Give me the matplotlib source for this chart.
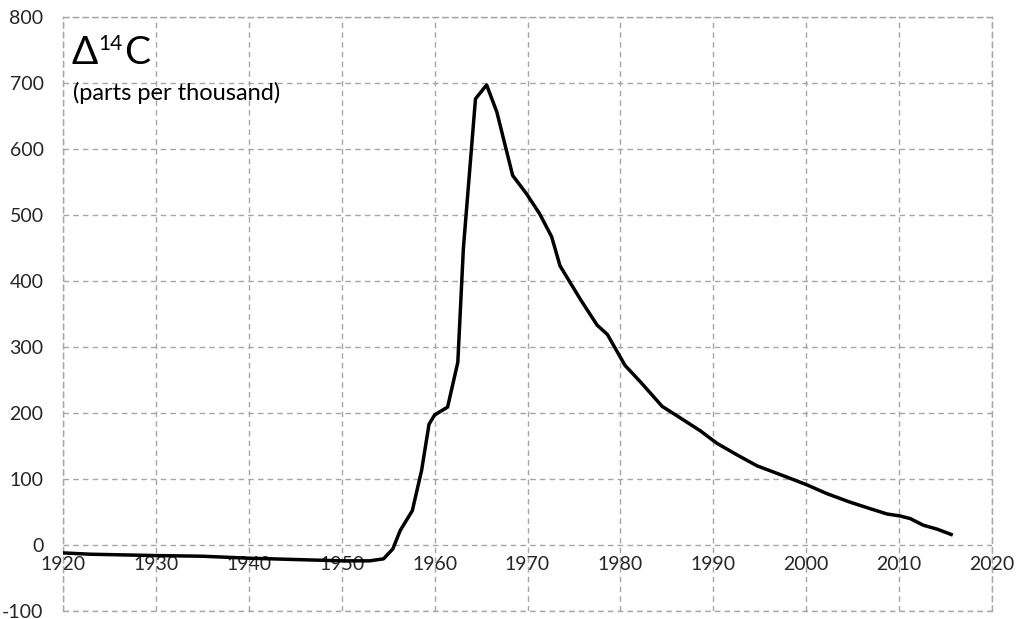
import matplotlib
matplotlib.use("Agg")
import matplotlib.pyplot as plt

years = [1920, 1923, 1930, 1935, 1940, 1945, 1950, 1953, 1954.5, 1955.5,
         1956.3, 1957.6, 1958.6, 1959.4, 1960.0, 1961.4, 1962.5, 1963.1,
         1964.4, 1965.6, 1966.7, 1968.4, 1969.9, 1971.3, 1972.6, 1973.5,
         1975.7, 1977.5, 1978.6, 1980.5, 1982.1, 1984.5, 1986.4, 1988.6,
         1990.4, 1992.5, 1994.7, 1997.9, 2000.1, 2002.2, 2004.7, 2006.9,
         2008.7, 2010.1, 2011.2, 2012.6, 2014.1, 2015.6]
delta14c = [-12, -14, -16, -17, -20, -22, -24, -24, -21, -6,
            22, 52, 113, 183, 197, 209, 277, 450,
            676, 697, 656, 560, 532, 502, 467, 423,
            372, 333, 319, 272, 248, 210, 193, 173,
            154, 137, 120, 103, 91, 78, 65, 55,
            47, 44, 40, 30, 24, 16]
x_ticks = list(range(1920, 2021, 10))
y_ticks = list(range(-100, 801, 100))

plt.rcParams['font.family'] = ['Lato', 'DejaVu Sans']
plt.rcParams['axes.unicode_minus'] = False

W, H = 1017, 619
fig = plt.figure(figsize=(W/100, H/100), dpi=100)
ax = fig.add_axes([63/W, 1 - 611/H, (992-63)/W, (611-17)/H])

ax.plot(years, delta14c, color='black', lw=2.5, solid_joinstyle='round', zorder=3)

ax.set_xlim(1920, 2020)
ax.set_ylim(-100, 800)
ax.set_xticks(x_ticks)
ax.set_yticks(y_ticks)

gcol = '#a6a6a6'
dash = (0, (4, 3))
ax.grid(True, color=gcol, linestyle=dash, lw=1.0)
for s in ax.spines.values():
    s.set_color(gcol)
    s.set_linestyle(dash)
    s.set_linewidth(1.0)

ax.spines['bottom'].set_position(('data', 0))
ax.spines['bottom'].set_visible(False)
ax.axhline(-100, color=gcol, linestyle=dash, lw=1.0, clip_on=False)

ax.tick_params(axis='both', length=0, labelsize=14, colors='#262626')
ax.tick_params(axis='y', pad=14)
ax.tick_params(axis='x', pad=8)

def px(x, y):
    return x / W, 1 - y / H

fig.text(*px(71, 64), 'Δ', fontsize=28, color='black', va='baseline')
fig.text(*px(98, 50), '14', fontsize=15, color='black', va='baseline')
fig.text(*px(124, 64), 'C', fontsize=28, color='black', va='baseline')
fig.text(*px(73, 100), '(parts per thousand)', fontsize=17, color='black', va='baseline')

fig.savefig('out.png', dpi=100)
